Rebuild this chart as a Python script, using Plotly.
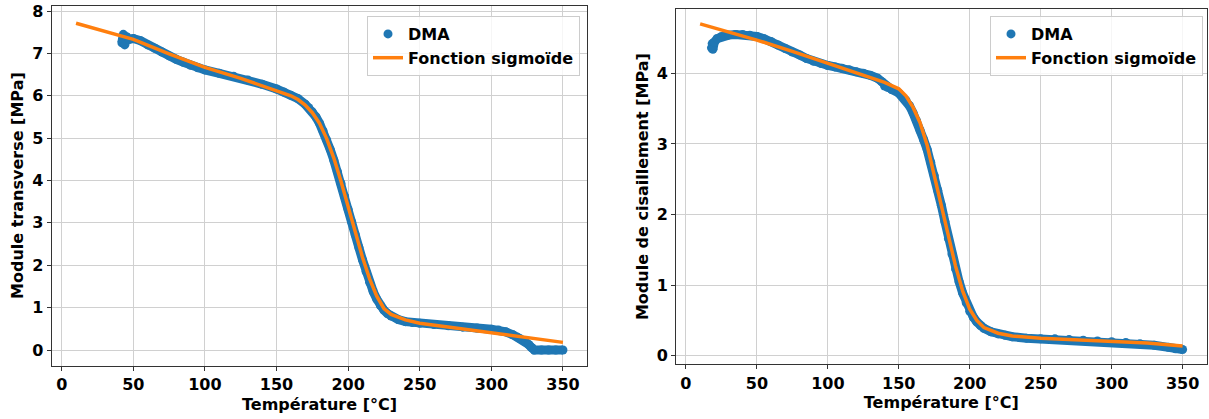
import plotly.graph_objects as go

# ---------------- data: left panel (Module transverse) ----------------
temp_dma_left = [42, 43, 44, 45, 47, 50, 55, 60, 65, 70, 75, 80, 85, 90, 95, 100, 110, 120, 130, 140,
                 150, 155, 160, 165, 170, 172.5, 175, 177.5, 180, 182.5, 185, 187.5, 190, 192.5, 195,
                 197.5, 200, 202.5, 205, 207.5, 210, 212.5, 215, 217.5, 220, 222.5, 225, 227.5, 230,
                 235, 240, 245, 250, 260, 270, 280, 290, 300, 305, 310, 315, 318, 320, 322, 324, 326,
                 328, 330, 335, 340, 345, 350]
mod_dma_left = [7.25, 7.45, 7.2, 7.4, 7.33, 7.35, 7.3, 7.2, 7.12, 7.03, 6.94, 6.86, 6.79, 6.72, 6.66, 6.61,
                6.53, 6.46, 6.37, 6.27, 6.16, 6.09, 6.01, 5.93, 5.80, 5.72, 5.62, 5.50, 5.35, 5.17, 4.96,
                4.73, 4.48, 4.21, 3.93, 3.63, 3.32, 3.02, 2.72, 2.42, 2.13, 1.85, 1.60, 1.38, 1.20, 1.05,
                0.94, 0.86, 0.80, 0.72, 0.67, 0.65, 0.63, 0.60, 0.57, 0.54, 0.52, 0.49, 0.47, 0.43, 0.36,
                0.31, 0.27, 0.23, 0.19, 0.13, 0.06, 0.0, 0.0, 0.0, 0.0, 0.0]

temp_fit_left = [10, 25, 50, 75, 100, 125, 150, 160, 165, 170, 175, 180, 185, 190, 195, 200, 205, 210,
                 215, 220, 225, 230, 240, 250, 275, 300, 325, 350]
mod_fit_left = [7.71, 7.57, 7.33, 6.99, 6.67, 6.41, 6.13, 6.00, 5.91, 5.78, 5.60, 5.35, 4.99, 4.53, 3.98,
                3.38, 2.77, 2.19, 1.68, 1.27, 0.98, 0.84, 0.71, 0.63, 0.52, 0.41, 0.29, 0.18]

# ---------------- data: right panel (Module de cisaillement) ----------------
temp_dma_right = [18, 18.5, 19, 20, 22, 25, 30, 35, 40, 45, 50, 55, 60, 65, 70, 75, 80, 85, 90, 95, 100,
                  105, 110, 115, 120, 125, 130, 135, 138, 140, 142, 145, 150, 155, 157.5, 160, 162.5,
                  165, 167.5, 170, 172.5, 175, 177.5, 180, 182.5, 185, 187.5, 190, 192.5, 195, 197.5,
                  200, 202.5, 205, 207.5, 210, 215, 220, 225, 230, 240, 250, 260, 270, 280, 290, 300,
                  310, 320, 330, 340, 345, 350]
mod_dma_right = [4.36, 4.42, 4.34, 4.44, 4.49, 4.52, 4.54, 4.55, 4.55, 4.54, 4.52, 4.49, 4.45, 4.40, 4.35,
                 4.30, 4.26, 4.21, 4.17, 4.14, 4.11, 4.09, 4.07, 4.05, 4.02, 4.00, 3.97, 3.93, 3.88, 3.82,
                 3.80, 3.77, 3.72, 3.62, 3.54, 3.44, 3.33, 3.19, 3.06, 2.92, 2.74, 2.55, 2.34, 2.13, 1.90,
                 1.66, 1.44, 1.23, 1.05, 0.89, 0.75, 0.63, 0.55, 0.48, 0.43, 0.39, 0.34, 0.31, 0.29, 0.27,
                 0.25, 0.24, 0.24, 0.23, 0.22, 0.21, 0.20, 0.19, 0.17, 0.15, 0.12, 0.10, 0.09]

temp_fit_right = [10, 30, 50, 75, 100, 125, 140, 150, 155, 160, 165, 170, 175, 180, 185, 190, 195, 200,
                  205, 210, 220, 230, 250, 275, 300, 325, 350]
mod_fit_right = [4.70, 4.59, 4.47, 4.31, 4.14, 3.98, 3.87, 3.78, 3.68, 3.52, 3.30, 2.98, 2.56, 2.12, 1.67,
                 1.27, 0.92, 0.66, 0.50, 0.40, 0.32, 0.28, 0.25, 0.23, 0.21, 0.18, 0.14]

x_ticks = [0, 50, 100, 150, 200, 250, 300, 350]
y_ticks_left = [0, 1, 2, 3, 4, 5, 6, 7, 8]
y_ticks_right = [0, 1, 2, 3, 4]

x_title = "Température [°C]"
y_title_left = "Module transverse [MPa]"
y_title_right = "Module de cisaillement [MPa]"
name_dma = "DMA"
name_fit = "Fonction sigmoïde"

BLUE = "#1f77b4"
ORANGE = "#ff7f0e"
FONT = "DejaVu Sans"
W, H = 1209, 419

fig = go.Figure()

def add_panel(xa, ya, tx_d, v_d, tx_f, v_f, legend):
    # continuous band under the dense DMA points
    fig.add_trace(go.Scatter(x=tx_d, y=v_d, mode="lines", line=dict(color=BLUE, width=9),
                             xaxis=xa, yaxis=ya, showlegend=False, hoverinfo="skip"))
    fig.add_trace(go.Scatter(x=tx_d, y=v_d, mode="markers", name=name_dma,
                             marker=dict(color=BLUE, size=9), xaxis=xa, yaxis=ya, legend=legend))
    fig.add_trace(go.Scatter(x=tx_f, y=v_f, mode="lines", name=name_fit,
                             line=dict(color=ORANGE, width=3.5), xaxis=xa, yaxis=ya, legend=legend))

add_panel("x", "y", temp_dma_left, mod_dma_left, temp_fit_left, mod_fit_left, "legend")
add_panel("x2", "y2", temp_dma_right, mod_dma_right, temp_fit_right, mod_fit_right, "legend2")

tickfont = dict(family=FONT, size=16, color="black", weight="bold")
titlefont = dict(family=FONT, size=16, color="black", weight="bold")

def xaxis(domain, anchor):
    return dict(domain=domain, anchor=anchor, range=[-7, 367], tickvals=x_ticks, automargin=False,
                showgrid=True, gridcolor="#d0d0d0", gridwidth=1, zeroline=False,
                showline=True, linecolor="#333333", linewidth=1, mirror=True,
                ticks="outside", ticklen=4, tickcolor="#333333", tickfont=tickfont,
                title=dict(text=x_title, font=titlefont, standoff=5))

def yaxis(domain, anchor, rng, ticks, title):
    return dict(domain=domain, anchor=anchor, range=rng, tickvals=ticks, automargin=False,
                showgrid=True, gridcolor="#d0d0d0", gridwidth=1, zeroline=False,
                showline=True, linecolor="#333333", linewidth=1, mirror=True,
                ticks="outside", ticklen=4, tickcolor="#333333", tickfont=tickfont,
                title=dict(text=title, font=titlefont, standoff=4))

legend_style = dict(font=dict(family=FONT, size=16, color="black", weight="bold"),
                    bgcolor="rgba(255,255,255,0.8)", bordercolor="#cccccc", borderwidth=1,
                    xanchor="right", yanchor="top", tracegroupgap=0)

fig.update_layout(
    width=W, height=H, autosize=False,
    margin=dict(l=0, r=0, t=0, b=0, autoexpand=False),
    paper_bgcolor="white", plot_bgcolor="white",
    xaxis=xaxis([51.7 / W, 587.3 / W], "y"),
    yaxis=yaxis([1 - 365.7 / H, 1 - 5.5 / H], "x", [-0.37, 8.13], y_ticks_left, y_title_left),
    xaxis2=xaxis([676 / W, 1206.7 / W], "y2"),
    yaxis2=yaxis([1 - 364.3 / H, 1 - 9 / H], "x2", [-0.12, 4.91], y_ticks_right, y_title_right),
    legend=dict(x=580 / W, y=1 - 16 / H, **legend_style),
    legend2=dict(x=1203 / W, y=1 - 16 / H, **legend_style),
)

fig.write_html("out.html", config={"displayModeBar": False},
               post_script="document.body.style.margin='0';document.body.style.overflow='hidden';")
